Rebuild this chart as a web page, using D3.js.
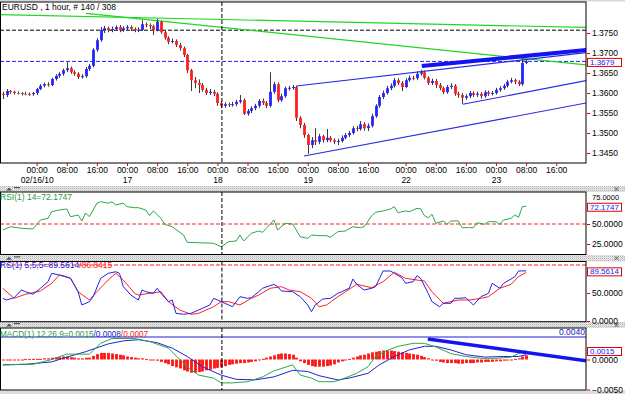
<!DOCTYPE html>
<html><head><meta charset="utf-8">
<script src="https://cdn.jsdelivr.net/npm/d3@7"></script>
<style>
body{margin:0;background:#fff;}
svg{display:block;font-family:"Liberation Sans",Arial,sans-serif;}
</style></head><body>
<svg id="c" width="625" height="394"></svg>
<script>
// ---------------- DATA ----------------
const titleText = "EURUSD , 1 hour, # 140 / 308";
const opens = [1.3598,1.3595,1.3605,1.3603,1.3600,1.3600,1.3598,1.3598,1.3597,1.3600,
1.3610,1.3618,1.3622,1.3620,1.3635,1.3643,1.3648,1.3657,1.3662,1.3652,
1.3648,1.3640,1.3642,1.3660,1.3668,1.3708,1.3732,1.3757,1.3762,1.3757,
1.3760,1.3765,1.3757,1.3762,1.3765,1.3760,1.3757,1.3758,1.3772,1.3770,
1.3767,1.3757,1.3778,1.3752,1.3738,1.3728,1.3730,1.3720,1.3712,1.3695,
1.3657,1.3632,1.3625,1.3620,1.3608,1.3600,1.3603,1.3598,1.3575,1.3568,
1.3572,1.3570,1.3572,1.3578,1.3582,1.3548,1.3555,1.3562,1.3568,1.3580,
1.3575,1.3568,1.3603,1.3622,1.3582,1.3592,1.3612,1.3613,1.3615,1.3538,
1.3520,1.3495,1.3470,1.3482,1.3478,1.3492,1.3482,1.3488,1.3482,1.3478,
1.3480,1.3488,1.3495,1.3500,1.3512,1.3510,1.3522,1.3512,1.3518,1.3542,
1.3568,1.3590,1.3600,1.3612,1.3618,1.3632,1.3625,1.3615,1.3632,1.3638,
1.3637,1.3648,1.3652,1.3638,1.3625,1.3630,1.3620,1.3612,1.3602,1.3615,
1.3618,1.3598,1.3595,1.3588,1.3592,1.3600,1.3595,1.3598,1.3592,1.3602,
1.3598,1.3600,1.3608,1.3612,1.3618,1.3628,1.3632,1.3628,1.3622,1.3675];
const highs = [1.3603,1.3610,1.3608,1.3606,1.3604,1.3602,1.3603,1.3601,1.3603,1.3613,
1.3622,1.3626,1.3627,1.3638,1.3647,1.3652,1.3661,1.3677,1.3666,1.3657,
1.3652,1.3647,1.3665,1.3673,1.3712,1.3737,1.3765,1.3768,1.3766,1.3766,
1.3769,1.3770,1.3767,1.3770,1.3769,1.3764,1.3764,1.3782,1.3776,1.3774,
1.3771,1.3785,1.3781,1.3756,1.3742,1.3736,1.3734,1.3725,1.3716,1.3698,
1.3660,1.3640,1.3634,1.3625,1.3613,1.3610,1.3608,1.3602,1.3580,1.3577,
1.3576,1.3578,1.3583,1.3595,1.3586,1.3560,1.3567,1.3573,1.3585,1.3586,
1.3580,1.3652,1.3628,1.3626,1.3598,1.3616,1.3618,1.3620,1.3618,1.3542,
1.3525,1.3498,1.3490,1.3512,1.3498,1.3496,1.3510,1.3492,1.3486,1.3486,
1.3494,1.3500,1.3505,1.3517,1.3518,1.3530,1.3527,1.3524,1.3548,1.3572,
1.3595,1.3606,1.3618,1.3624,1.3638,1.3637,1.3630,1.3637,1.3644,1.3643,
1.3654,1.3658,1.3656,1.3642,1.3636,1.3635,1.3625,1.3616,1.3620,1.3624,
1.3622,1.3603,1.3600,1.3597,1.3605,1.3604,1.3603,1.3602,1.3607,1.3606,
1.3605,1.3613,1.3617,1.3623,1.3633,1.3638,1.3636,1.3632,1.3690,1.3683];
const lows = [1.3585,1.3590,1.3598,1.3596,1.3596,1.3594,1.3594,1.3593,1.3593,1.3595,
1.3607,1.3614,1.3616,1.3617,1.3631,1.3638,1.3643,1.3652,1.3648,1.3643,
1.3635,1.3636,1.3638,1.3655,1.3664,1.3703,1.3728,1.3750,1.3752,1.3752,
1.3755,1.3752,1.3753,1.3757,1.3755,1.3752,1.3752,1.3755,1.3764,1.3760,
1.3745,1.3754,1.3748,1.3733,1.3722,1.3724,1.3715,1.3706,1.3690,1.3650,
1.3605,1.3612,1.3600,1.3603,1.3595,1.3595,1.3592,1.3568,1.3562,1.3563,
1.3565,1.3566,1.3567,1.3574,1.3545,1.3543,1.3550,1.3557,1.3563,1.3570,
1.3562,1.3564,1.3598,1.3577,1.3578,1.3588,1.3606,1.3608,1.3530,1.3512,
1.3488,1.3448,1.3462,1.3470,1.3472,1.3476,1.3477,1.3477,1.3472,1.3470,
1.3476,1.3484,1.3490,1.3496,1.3504,1.3506,1.3506,1.3505,1.3514,1.3538,
1.3563,1.3585,1.3596,1.3607,1.3614,1.3620,1.3605,1.3612,1.3628,1.3632,
1.3632,1.3643,1.3634,1.3620,1.3620,1.3612,1.3607,1.3597,1.3598,1.3610,
1.3593,1.3588,1.3573,1.3583,1.3587,1.3590,1.3590,1.3586,1.3588,1.3593,
1.3594,1.3596,1.3603,1.3608,1.3614,1.3624,1.3622,1.3617,1.3618,1.3672];
const closes = [1.3595,1.3605,1.3603,1.3600,1.3600,1.3598,1.3598,1.3597,1.3600,1.3610,
1.3618,1.3622,1.3620,1.3635,1.3643,1.3648,1.3657,1.3662,1.3652,1.3648,
1.3640,1.3642,1.3660,1.3668,1.3708,1.3732,1.3757,1.3762,1.3757,1.3760,
1.3765,1.3757,1.3762,1.3765,1.3760,1.3757,1.3758,1.3772,1.3770,1.3767,
1.3757,1.3778,1.3752,1.3738,1.3728,1.3730,1.3720,1.3712,1.3695,1.3657,
1.3632,1.3625,1.3620,1.3608,1.3600,1.3603,1.3598,1.3575,1.3568,1.3572,
1.3570,1.3572,1.3578,1.3582,1.3548,1.3555,1.3562,1.3568,1.3580,1.3575,
1.3568,1.3603,1.3622,1.3582,1.3592,1.3612,1.3613,1.3615,1.3538,1.3520,
1.3495,1.3470,1.3482,1.3478,1.3492,1.3482,1.3488,1.3482,1.3478,1.3480,
1.3488,1.3495,1.3500,1.3512,1.3510,1.3522,1.3512,1.3518,1.3542,1.3568,
1.3590,1.3600,1.3612,1.3618,1.3632,1.3625,1.3615,1.3632,1.3638,1.3637,
1.3648,1.3652,1.3638,1.3625,1.3630,1.3620,1.3612,1.3602,1.3615,1.3618,
1.3598,1.3595,1.3588,1.3592,1.3600,1.3595,1.3598,1.3592,1.3602,1.3598,
1.3600,1.3608,1.3612,1.3618,1.3628,1.3632,1.3628,1.3622,1.3675,1.3679];

// time axis (bar index of each label)
const timeTickBars = [9,17,25,33,41,49,57,65,73,81,89,97,107,115,123,131,139,147];
const timeTickLabels = ["00:00","08:00","16:00","00:00","08:00","16:00","00:00","08:00","16:00","00:00","08:00","16:00","00:00","08:00","16:00","00:00","08:00","16:00"];
const dateTickBars = [9,33,57,81,107,131];
const dateTickLabels = ["02/16/10","17","18","19","22","23"];
const priceTicks = [1.3450,1.3500,1.3550,1.3600,1.3650,1.3700,1.3750];
const lastPrice = 1.3679;
const dashedBlackLevel = 1.3757;
const verticalLineBar = 58.2;

// trend lines [bar, price]
const greenLineA = [[-1,1.3796],[155,1.37638]];
const greenLineB = [[22.1,1.3799],[155,1.3670]];
const blueUpperLine = [[78,1.36175],[155,1.3701]];
const blueLowerLine = [[80,1.34425],[155,1.3575]];
const blueMiddleLine = [[122.2,1.35718],[155,1.3631]];
const blueThickLine = [[111.3,1.36675],[155,1.37075]];

// RSI
const rsiTicks = [25,50,75];
const rsiLast = 72.1747;
const rsiLevel = 50;
const rsiPoints = [[0,42.5],[2,46.6],[5,44.6],[8,43.8],[10,55],[12,57.1],[13,65.4],[15,67.5],[17,68.8],[18,59.1],[20,61.3],[21,53.8],[22,63.8],[23,59.1],[25,75.9],[26,77.9],[28,75.9],[29,77.9],[30,73.8],[32,75.9],[33,71.6],[35,70.4],[36,70.4],[38,67.5],[39,60.4],[40,66.3],[42,57.1],[43,49.6],[45,46.6],[48,36.3],[49,27.1],[52,26.6],[56,25.9],[58,21.6],[60,27.9],[62,28.8],[63,36.3],[64,28.8],[66,38.4],[68,41.3],[69,39.6],[70,44.6],[72,55],[73,42.5],[75,50.9],[77,50],[79,34.1],[81,32.1],[82,36.3],[84,35.4],[86,35.4],[87,33.4],[89,40.4],[91,41.3],[93,46.6],[95,45.4],[96,46.6],[98,60.4],[99,64.6],[101,66.3],[103,68.8],[104,71.6],[105,64.1],[107,66.3],[108,65.4],[110,69.6],[111,68.8],[112,60.4],[113,57.9],[114,62.1],[115,50.9],[117,53.8],[118,49.6],[119,53.8],[121,53.8],[122,45.4],[124,45.4],[125,45.4],[126,51.6],[128,49.6],[129,52.9],[131,52.9],[132,49.6],[133,55],[135,57.1],[136,61.3],[137,58.4],[138,71.6],[139,72.17]];

// Stochastic
const stochName = "RS(1) 5,5,5=";
const stochTicks = [0,50];
const stochLevel = 100;
const stochLastMain = 89.5614, stochLastSignal = 86.8415;
const stochMain = [[0,40.5],[1,37.5],[3,41.6],[5,55.4],[6,52.3],[8,47.7],[10,58.4],[12,70.2],[13,85.1],[15,82.1],[16,80.9],[18,76.2],[20,52.3],[21,28.6],[23,34.5],[24,43.4],[26,76.2],[28,85.1],[30,88],[31,85.1],[32,61.3],[34,46.4],[36,37.5],[37,55.4],[38,52.3],[40,49.4],[41,58.4],[42,49.4],[44,34.5],[45,37.5],[46,13.7],[48,12],[50,13.7],[52,19.6],[55,28.6],[56,40.5],[57,37.5],[58,34.5],[60,28.6],[61,25.5],[63,43.4],[65,40.5],[66,41.6],[68,52.3],[69,58.4],[72,65.5],[73,61.3],[74,53.6],[77,52.3],[79,43.4],[81,28.6],[82,16.6],[83,28.6],[85,39.3],[87,40.5],[89,49.4],[90,52.3],[92,58.4],[93,75],[94,65.5],[96,55.4],[98,58.4],[99,61.3],[101,89.3],[103,89.3],[104,85.1],[106,77.3],[107,67.3],[109,70.2],[110,80.9],[111,76.2],[113,49.4],[114,34.5],[116,25.5],[117,31.6],[119,31.6],[120,40.5],[121,40.5],[123,41.6],[125,28.6],[127,43.4],[129,49.4],[130,67.3],[132,58.4],[133,67.3],[135,75],[136,79.1],[137,89.3],[139,89.56]];
const stochSignal = [[0,58.4],[3,40.5],[6,47.7],[10,53.6],[13,67.3],[15,82.1],[18,76.2],[20,52.3],[23,37.5],[25,52.3],[28,73.2],[30,85.1],[32,73.2],[35,49.4],[36,46.4],[39,49.4],[42,52.3],[44,34.5],[47,19.6],[50,12],[52,13.7],[56,25.5],[58,34.5],[60,34.5],[63,28.6],[66,40.5],[68,46.4],[71,58.4],[74,61.3],[76,55.4],[79,52.3],[82,40.5],[84,25.5],[86,28.6],[89,43.4],[91,52.3],[94,65.5],[98,59.5],[101,70.2],[104,87],[107,76.2],[110,73.2],[112,71.4],[114,52.3],[117,31.6],[121,37.5],[124,37.5],[127,40.5],[129,43.4],[132,58.4],[135,65.5],[137,79.1],[139,86.84]];

// MACD
const macdTicks = [-0.005,0];
const macdLastMain = 0.0015, macdLastSignal = 0.0008, macdLastHist = 0.0007;
const macdTopLevel = 0.00375;
const macdTopLabel = "0.0040";
const macdMain = [[0,-0.0009],[5,-0.0008],[8,-0.0008],[13,0],[17,0.0009],[23,0.0009],[26,0.0027],[29,0.0035],[35,0.0035],[39,0.003],[44,0.0019],[47,0],[50,-0.0017],[52,-0.0026],[56,-0.0031],[58,-0.0039],[61,-0.0039],[65,-0.0037],[69,-0.0029],[72,-0.0019],[74,-0.0015],[77,-0.0009],[79,-0.0026],[82,-0.0031],[84,-0.0037],[88,-0.0037],[90,-0.0033],[94,-0.0023],[97,-0.0012],[99,0.0005],[102,0.0015],[105,0.0022],[109,0.0027],[112,0.0027],[115,0.0021],[119,0.001],[123,0.0005],[127,0.0002],[131,0.0002],[135,0.0004],[137,0.001],[139,0.0015]];
const macdSignal = [[0,-0.0009],[6,-0.0008],[13,-0.0004],[17,0.0004],[22,0.0013],[28,0.0026],[32,0.0031],[36,0.0033],[41,0.0028],[45,0.0019],[49,0.0005],[53,-0.0012],[58,-0.0026],[62,-0.0033],[67,-0.0034],[72,-0.0029],[77,-0.0018],[81,-0.0020],[84,-0.0027],[89,-0.0034],[92,-0.0031],[97,-0.0023],[100,-0.0009],[104,0.0005],[108,0.0016],[112,0.0022],[115,0.0022],[119,0.0016],[123,0.0008],[128,0.0004],[133,0.0005],[137,0.0005],[139,0.0008]];
const macdHist = [0,0,0,0,0,0,0.0001,0.0001,0.0001,0.0001,
0.0001,0.0002,0.0002,0.0003,0.0004,0.0004,0.0005,0.0005,0.0004,0.0003,
0.0002,0.0002,0.0003,0.0003,0.0006,0.0009,0.0011,0.0011,0.0011,0.0010,
0.0009,0.0008,0.0007,0.0005,0.0004,0.0003,0.0002,0.0002,0.0001,0,
-0.0001,-0.0002,-0.0004,-0.0006,-0.0008,-0.0011,-0.0013,-0.0015,-0.0018,-0.0020,
-0.0022,-0.0022,-0.0021,-0.0020,-0.0018,-0.0017,-0.0015,-0.0014,-0.0013,-0.0011,
-0.0009,-0.0008,-0.0007,-0.0006,-0.0006,-0.0005,-0.0004,-0.0003,-0.0001,0.0001,
0.0003,0.0005,0.0007,0.0009,0.0010,0.0010,0.0009,0.0008,0.0003,-0.0003,
-0.0006,-0.0009,-0.0011,-0.0012,-0.0012,-0.0012,-0.0011,-0.0010,-0.0008,-0.0005,
-0.0003,-0.0001,0.0001,0.0003,0.0005,0.0007,0.0008,0.0010,0.0012,0.0013,
0.0014,0.0015,0.0015,0.0015,0.0014,0.0013,0.0012,0.0011,0.0010,0.0009,
0.0008,0.0006,0.0004,0.0002,0,-0.0002,-0.0004,-0.0005,-0.0006,-0.0006,
-0.0006,-0.0007,-0.0007,-0.0006,-0.0006,-0.0006,-0.0005,-0.0005,-0.0004,-0.0004,
-0.0004,-0.0003,-0.0003,-0.0002,-0.0001,0,0.0001,0.0002,0.0005,0.0007];
const macdThickLine = [[112.9,0.00342],[155,-0.0002]];

// ---------------- DRAWING ----------------
const W = 625, H = 394, PR = 586, FS = 8.5;
const svg = d3.select('#c');
const defs = svg.append('defs');
const pat = defs.append('pattern').attr('id','dots').attr('width',2).attr('height',2).attr('patternUnits','userSpaceOnUse');
pat.append('rect').attr('width',2).attr('height',2).attr('fill','#ececec');
pat.append('rect').attr('width',1).attr('height',1).attr('fill','#b4b4b4');
pat.append('rect').attr('x',1).attr('y',1).attr('width',1).attr('height',1).attr('fill','#d0d0d0');

const x = d3.scaleLinear().domain([0,139]).range([2.8,526.1]);
const P = {
  main:{top:2,bottom:163},
  rsi:{top:192,bottom:254.5},
  sto:{top:261.5,bottom:321.7},
  macd:{top:328,bottom:390}
};
const yMain = d3.scaleLinear().domain([1.3450,1.3750]).range([153,33]);
const yRsi = d3.scaleLinear().domain([25,75]).range([244,204]);
const ySto = d3.scaleLinear().domain([0,100]).range([321,265]);
const yMacd = d3.scaleLinear().domain([-0.005,0.004]).range([389.5,335.5]);

Object.entries(P).forEach(([k,p])=>{
  defs.append('clipPath').attr('id','clip-'+k).append('rect')
    .attr('x',0).attr('y',p.top).attr('width',PR).attr('height',p.bottom-p.top);
});

// bands
function band(y0,y1){
  svg.append('rect').attr('x',0).attr('y',y0).attr('width',W).attr('height',y1-y0).attr('fill','url(#dots)');
  const cy=(y0+y1)/2;
  svg.append('path').attr('d',`M6,${cy+1.5}L9,${cy-1.5}L12,${cy+1.5}Z`).attr('fill','#555');
  svg.append('rect').attr('x',14).attr('y',cy-2).attr('width',6).attr('height',1.2).attr('fill','#555');
  svg.append('path').attr('d',`M614.5,${cy-2}L618.5,${cy+2}M618.5,${cy-2}L614.5,${cy+2}`).attr('stroke','#555').attr('stroke-width',1);
}
svg.append('rect').attr('x',0).attr('y',0).attr('width',W).attr('height',1.5).attr('fill','#d8d8d8');
band(186,192);
band(255,261.5);
band(322,328);
svg.append('rect').attr('x',0).attr('y',390.5).attr('width',W).attr('height',H-390.5).attr('fill','#dcdcdc');

function frame(p){
  svg.append('rect').attr('x',0.5).attr('y',p.top).attr('width',PR-0.5).attr('height',p.bottom-p.top)
    .attr('fill','none').attr('stroke','#000').attr('stroke-width',1);
}

// ---- main panel
const gm = svg.append('g').attr('clip-path','url(#clip-main)');
const line2 = (ys)=> d3.line().x(d=>x(d[0])).y(d=>ys(d[1]));
gm.append('line').attr('x1',0).attr('x2',PR).attr('y1',yMain(dashedBlackLevel)).attr('y2',yMain(dashedBlackLevel))
  .attr('stroke','#000').attr('stroke-dasharray','4,2');
gm.append('line').attr('x1',0).attr('x2',PR).attr('y1',yMain(lastPrice)).attr('y2',yMain(lastPrice))
  .attr('stroke','#2020ff').attr('stroke-dasharray','4,2');
[greenLineA,greenLineB].forEach(l=>gm.append('path').attr('d',line2(yMain)(l)).attr('fill','none').attr('stroke','#1ed81e').attr('stroke-width',1.2));
[blueUpperLine,blueLowerLine,blueMiddleLine].forEach(l=>gm.append('path').attr('d',line2(yMain)(l)).attr('fill','none').attr('stroke','#2828e6').attr('stroke-width',1.1));

const idx = d3.range(closes.length);
gm.append('g').selectAll('line').data(idx).join('line')
  .attr('x1',i=>Math.round(x(i))+0.5).attr('x2',i=>Math.round(x(i))+0.5)
  .attr('y1',i=>yMain(highs[i])).attr('y2',i=>yMain(lows[i]))
  .attr('stroke','#3a3a3a').attr('stroke-width',1);
gm.append('g').selectAll('rect').data(idx).join('rect')
  .attr('x',i=>Math.round(x(i))+0.5-1.4).attr('width',2.8)
  .attr('y',i=>yMain(Math.max(opens[i],closes[i])))
  .attr('height',i=>Math.max(1,yMain(Math.min(opens[i],closes[i]))-yMain(Math.max(opens[i],closes[i]))))
  .attr('fill',i=>closes[i]>opens[i]?'#2424ff':(closes[i]<opens[i]?'#ff1e1e':'#8a8a8a'));
gm.append('path').attr('d',line2(yMain)(blueThickLine)).attr('fill','none').attr('stroke','#1414f0').attr('stroke-width',4);

function vline(g,p){
  g.append('line').attr('x1',x(verticalLineBar)).attr('x2',x(verticalLineBar)).attr('y1',p.top).attr('y2',p.bottom)
   .attr('stroke','#000').attr('stroke-dasharray','4,2');
}
vline(gm,P.main);
frame(P.main);
svg.append('text').attr('x',2).attr('y',9.5).attr('font-size',FS).attr('fill','#000').text(titleText);

function styleAxis(g){
  g.select('.domain').remove();
  g.selectAll('.tick line').attr('stroke','#e00000');
  g.selectAll('.tick text').attr('fill','#000').attr('font-size',FS).attr('font-family','"Liberation Sans",Arial,sans-serif');
}
function rightAxis(scale,ticks,fmt){
  const g = svg.append('g').attr('transform',`translate(${PR+1},0)`)
    .call(d3.axisRight(scale).tickValues(ticks).tickFormat(fmt).tickSize(3).tickPadding(2));
  styleAxis(g);
  return g;
}
rightAxis(yMain,priceTicks,d3.format('.4f'));

// time axes
const gt = svg.append('g').attr('transform',`translate(0,${P.main.bottom})`)
  .call(d3.axisBottom(x).tickValues(timeTickBars).tickFormat((d,i)=>timeTickLabels[i]).tickSize(3).tickPadding(1));
styleAxis(gt);
const gd = svg.append('g').attr('transform',`translate(0,${P.main.bottom})`)
  .call(d3.axisBottom(x).tickValues(dateTickBars).tickFormat((d,i)=>dateTickLabels[i]).tickSize(0).tickPadding(14));
styleAxis(gd);

function valueBox(y,txt){
  svg.append('rect').attr('x',587.5).attr('y',y-3).attr('width',34).attr('height',8)
    .attr('fill','#fff').attr('stroke','#e00000').attr('stroke-width',1);
  svg.append('text').attr('x',590).attr('y',y+3.6).attr('font-size',8).attr('fill','#1a1aff').text(txt);
}
valueBox(yMain(lastPrice),d3.format('.4f')(lastPrice));

// ---- RSI
const gr = svg.append('g').attr('clip-path','url(#clip-rsi)');
gr.append('line').attr('x1',0).attr('x2',PR).attr('y1',yRsi(rsiLevel)).attr('y2',yRsi(rsiLevel))
  .attr('stroke','#ff2020').attr('stroke-dasharray','4,2');
gr.append('path').attr('d',line2(yRsi)(rsiPoints)).attr('fill','none').attr('stroke','#2aa84a').attr('stroke-width',1);
vline(gr,P.rsi);
frame(P.rsi);
svg.append('text').attr('x',0).attr('y',200).attr('font-size',FS).attr('fill','#1f9a3c').text('RSI(1) 14='+rsiLast.toFixed(4));
const ra = rightAxis(yRsi,rsiTicks,d3.format('.4f'));
ra.selectAll('.tick').filter(d=>d===75).select('text').attr('dy','-0.6em').attr('font-size',7.5);
valueBox(yRsi(rsiLast),rsiLast.toFixed(4));

// ---- Stochastic
const gs = svg.append('g').attr('clip-path','url(#clip-sto)');
gs.append('line').attr('x1',0).attr('x2',PR).attr('y1',ySto(stochLevel)).attr('y2',ySto(stochLevel))
  .attr('stroke','#ff2020').attr('stroke-dasharray','4,2');
gs.append('path').attr('d',line2(ySto)(stochSignal)).attr('fill','none').attr('stroke','#ff2020').attr('stroke-width',1);
gs.append('path').attr('d',line2(ySto)(stochMain)).attr('fill','none').attr('stroke','#2222e8').attr('stroke-width',1);
vline(gs,P.sto);
frame(P.sto);
const st = svg.append('text').attr('x',0).attr('y',268).attr('font-size',FS);
st.append('tspan').attr('fill','#2222e8').text(stochName+stochLastMain.toFixed(4));
st.append('tspan').attr('fill','#ff2020').text('/'+stochLastSignal.toFixed(4));
rightAxis(ySto,stochTicks,d3.format('.4f'));
valueBox(ySto(stochLastMain),stochLastMain.toFixed(4));

// ---- MACD
const gc = svg.append('g').attr('clip-path','url(#clip-macd)');
gc.append('line').attr('x1',0).attr('x2',PR).attr('y1',yMacd(macdTopLevel)).attr('y2',yMacd(macdTopLevel))
  .attr('stroke','#2020d0').attr('stroke-width',1);
gc.append('g').selectAll('rect').data(idx).join('rect')
  .attr('x',i=>Math.round(x(i))-0.9).attr('width',2.8)
  .attr('y',i=>Math.min(yMacd(0),yMacd(macdHist[i])))
  .attr('height',i=>Math.max(1,Math.abs(yMacd(macdHist[i])-yMacd(0))))
  .attr('fill','#ff1414');
gc.append('path').attr('d',line2(yMacd)(macdSignal)).attr('fill','none').attr('stroke','#2222d8').attr('stroke-width',1);
gc.append('path').attr('d',line2(yMacd)(macdMain)).attr('fill','none').attr('stroke','#2aa84a').attr('stroke-width',1);
gc.append('path').attr('d',line2(yMacd)(macdThickLine)).attr('fill','none').attr('stroke','#1414f0').attr('stroke-width',3.5);
vline(gc,P.macd);
frame(P.macd);
const mt = svg.append('text').attr('x',0).attr('y',336.5).attr('font-size',8.2);
mt.append('tspan').attr('fill','#1f9a3c').text('MACD(1) 12,26,9='+macdLastMain.toFixed(4));
mt.append('tspan').attr('fill','#2222d8').text('/'+macdLastSignal.toFixed(4));
mt.append('tspan').attr('fill','#ff2020').text('/'+macdLastHist.toFixed(4));
svg.append('text').attr('x',PR-1).attr('y',335).attr('text-anchor','end').attr('font-size',FS).attr('fill','#2020d0').text(macdTopLabel);
rightAxis(yMacd,macdTicks,d3.format('.4f'));
valueBox(yMacd(macdLastMain),macdLastMain.toFixed(4));
</script>
</body></html>
